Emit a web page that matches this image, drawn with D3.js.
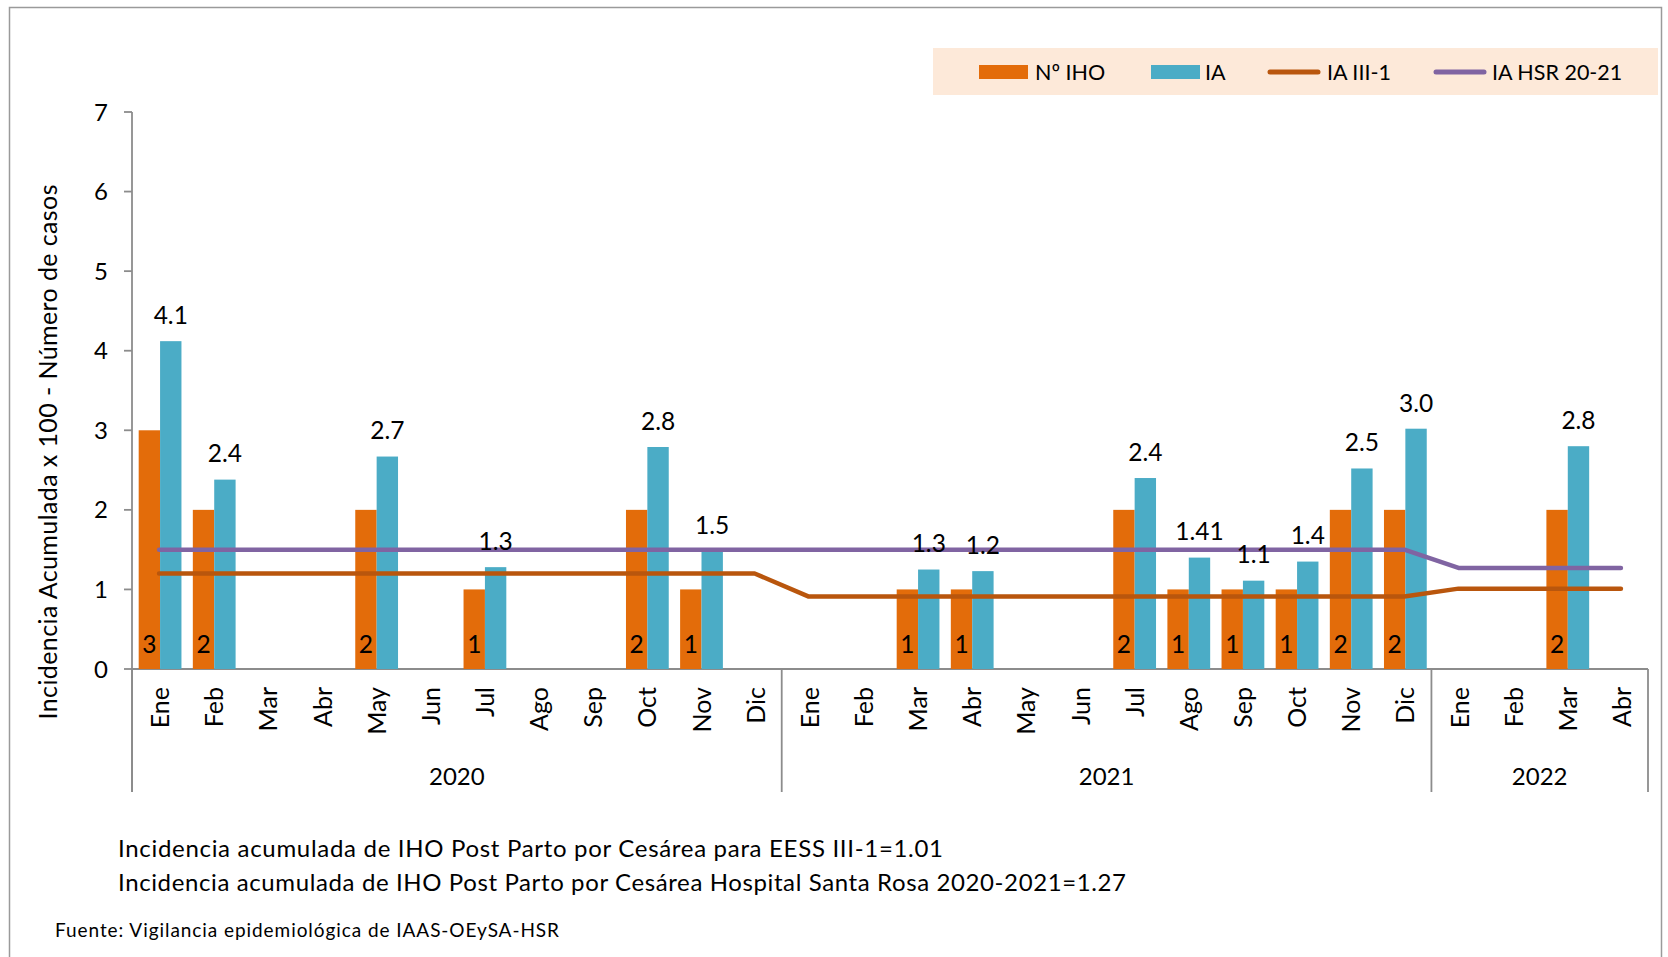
<!DOCTYPE html>
<html>
<head>
<meta charset="utf-8">
<script src="https://cdn.jsdelivr.net/npm/d3@7"></script>
<style>
  html, body { margin: 0; padding: 0; background: #fff; }
  svg { display: block; font-family: Lato, "Open Sans", sans-serif; }
</style>
</head>
<body>
<svg id="chart" width="1668" height="957"></svg>
<script>
// ---- Data ----
const years = ["2020", "2021", "2022"];
const monthsPerYear = [12, 12, 4];
const months = ["Ene","Feb","Mar","Abr","May","Jun","Jul","Ago","Sep","Oct","Nov","Dic",
                "Ene","Feb","Mar","Abr","May","Jun","Jul","Ago","Sep","Oct","Nov","Dic",
                "Ene","Feb","Mar","Abr"];
const ihoCount = [3, 2, null, null, 2, null, 1, null, null, 2, 1, null,
                  null, null, 1, 1, null, null, 2, 1, 1, 1, 2, 2,
                  null, null, 2, null];
const iaValues = [4.12, 2.38, null, null, 2.67, null, 1.28, null, null, 2.79, 1.48, null,
                  null, null, 1.25, 1.23, null, null, 2.40, 1.40, 1.11, 1.35, 2.52, 3.02,
                  null, null, 2.80, null];
const iaLabels = ["4.1", "2.4", "", "", "2.7", "", "1.3", "", "", "2.8", "1.5", "",
                  "", "", "1.3", "1.2", "", "", "2.4", "1.41", "1.1", "1.4", "2.5", "3.0",
                  "", "", "2.8", ""];
const iaIII1 = [1.2, 1.2, 1.2, 1.2, 1.2, 1.2, 1.2, 1.2, 1.2, 1.2, 1.2, 1.2,
                0.91, 0.91, 0.91, 0.91, 0.91, 0.91, 0.91, 0.91, 0.91, 0.91, 0.91, 0.91,
                1.01, 1.01, 1.01, 1.01];
const iaHSR = [1.5, 1.5, 1.5, 1.5, 1.5, 1.5, 1.5, 1.5, 1.5, 1.5, 1.5, 1.5,
               1.5, 1.5, 1.5, 1.5, 1.5, 1.5, 1.5, 1.5, 1.5, 1.5, 1.5, 1.5,
               1.27, 1.27, 1.27, 1.27];
const yTicks = [0, 1, 2, 3, 4, 5, 6, 7];
const legendLabels = ["Nº IHO", "IA", "IA III-1", "IA HSR 20-21"];
const yAxisTitle = "Incidencia Acumulada x 100 - Número de casos";
const footnotes = ["Incidencia acumulada de IHO Post Parto por Cesárea para EESS III-1=1.01",
                   "Incidencia acumulada de IHO Post Parto por Cesárea Hospital Santa Rosa 2020-2021=1.27"];
const sourceNote = "Fuente: Vigilancia epidemiológica de IAAS-OEySA-HSR";

(function draw() {
// ---- Styles ----
const C_ORANGE = "#E36C0A", C_CYAN = "#4BACC6", C_III1 = "#B9560D", C_HSR = "#8064A2";
const AXIS = "#8C8C8C";

const svg = d3.select("#chart");

// outer border
svg.append("rect").attr("x", 9.5).attr("y", 7.5).attr("width", 1652).attr("height", 980)
  .attr("fill", "none").attr("stroke", "#9a9a9a").attr("stroke-width", 1.5);

const pLeft = 132, pRight = 1648, pTop = 112, pBottom = 669, axisBottom = 792;
const idx = d3.range(months.length);
const x = d3.scaleBand().domain(idx).range([pLeft, pRight]).padding(0);
const y = d3.scaleLinear().domain([0, 7]).range([pBottom, pTop]);
const bw = x.bandwidth() * 0.395;
const cx = i => x(i) + x.bandwidth() / 2;

// y axis
const yAxis = svg.append("g");
yAxis.append("line").attr("x1", pLeft).attr("x2", pLeft).attr("y1", pTop).attr("y2", axisBottom)
  .attr("stroke", AXIS).attr("stroke-width", 1.8);
yAxis.selectAll(".tk").data(yTicks).join("line")
  .attr("x1", pLeft - 8).attr("x2", pLeft).attr("y1", d => y(d)).attr("y2", d => y(d))
  .attr("stroke", AXIS).attr("stroke-width", 1.8);
yAxis.selectAll(".tl").data(yTicks).join("text")
  .attr("x", 108).attr("y", d => y(d)).attr("dy", "0.36em")
  .attr("text-anchor", "end").attr("font-size", 24).attr("fill", "#000")
  .text(d => d);

// y title
svg.append("text").attr("transform", `translate(57,452) rotate(-90)`)
  .attr("text-anchor", "middle").attr("font-size", 25).attr("fill", "#000")
  .attr("textLength", 535).attr("lengthAdjust", "spacing")
  .text(yAxisTitle);

// x axis
svg.append("line").attr("x1", pLeft).attr("x2", pRight).attr("y1", pBottom).attr("y2", pBottom)
  .attr("stroke", AXIS).attr("stroke-width", 1.8);
// group separators
let acc = 0;
const sepIdx = [0];
monthsPerYear.forEach(n => { acc += n; sepIdx.push(acc); });
const sepX = k => (k < months.length ? x(k) : pRight);
svg.selectAll(".sep").data(sepIdx).join("line")
  .attr("x1", d => sepX(d)).attr("x2", d => sepX(d)).attr("y1", pBottom).attr("y2", axisBottom)
  .attr("stroke", AXIS).attr("stroke-width", 1.8);
// month labels
svg.selectAll(".ml").data(idx).join("text")
  .attr("transform", i => `translate(${cx(i) + 10},687) rotate(-90)`)
  .attr("text-anchor", "end").attr("font-size", 25).attr("fill", "#000")
  .text(i => months[i]);
// year labels
years.forEach((yr, k) => {
  const a = sepX(sepIdx[k]), b = sepX(sepIdx[k + 1]);
  svg.append("text").attr("x", (a + b) / 2).attr("y", 785)
    .attr("text-anchor", "middle").attr("font-size", 24).attr("fill", "#000").text(yr);
});

// bars
const bars = svg.append("g");
bars.selectAll(".ob").data(idx.filter(i => ihoCount[i] != null)).join("rect")
  .attr("x", i => cx(i) - bw + 1).attr("width", bw)
  .attr("y", i => y(ihoCount[i])).attr("height", i => pBottom - y(ihoCount[i]))
  .attr("fill", C_ORANGE);
bars.selectAll(".cb").data(idx.filter(i => iaValues[i] != null)).join("rect")
  .attr("x", i => cx(i) + 1).attr("width", bw)
  .attr("y", i => y(iaValues[i])).attr("height", i => pBottom - y(iaValues[i]))
  .attr("fill", C_CYAN);

// lines
const line = arr => d3.line().x(i => cx(i)).y(i => y(arr[i]))(idx);
svg.append("path").attr("d", line(iaIII1)).attr("fill", "none")
  .attr("stroke", C_III1).attr("stroke-width", 4.5).attr("stroke-linecap", "round").attr("stroke-linejoin", "round");
svg.append("path").attr("d", line(iaHSR)).attr("fill", "none")
  .attr("stroke", C_HSR).attr("stroke-width", 4.5).attr("stroke-linecap", "round").attr("stroke-linejoin", "round");

// labels
svg.selectAll(".il").data(idx.filter(i => iaValues[i] != null)).join("text")
  .attr("x", i => cx(i) + 1 + bw / 2).attr("y", i => y(iaValues[i]) - 26)
  .attr("dy", "0.36em").attr("text-anchor", "middle").attr("font-size", 24.5).attr("fill", "#000")
  .text(i => iaLabels[i]);
svg.selectAll(".cl").data(idx.filter(i => ihoCount[i] != null)).join("text")
  .attr("x", i => cx(i) + 1 - bw / 2).attr("y", pBottom - 25)
  .attr("dy", "0.36em").attr("text-anchor", "middle").attr("font-size", 24.5).attr("fill", "#000")
  .text(i => ihoCount[i]);

// legend
const lg = svg.append("g");
lg.append("rect").attr("x", 933).attr("y", 48).attr("width", 725).attr("height", 47).attr("fill", "#FDE9D9");
const lgItems = [
  {type: "rect", color: C_ORANGE, sx: 979, tx: 1035},
  {type: "rect", color: C_CYAN, sx: 1151, tx: 1205},
  {type: "line", color: C_III1, sx: 1270, tx: 1327},
  {type: "line", color: C_HSR, sx: 1436, tx: 1492}
];
lgItems.forEach((it, k) => {
  if (it.type === "rect") {
    lg.append("rect").attr("x", it.sx).attr("y", 65).attr("width", 49).attr("height", 14).attr("fill", it.color);
  } else {
    lg.append("line").attr("x1", it.sx).attr("x2", it.sx + 48).attr("y1", 72).attr("y2", 72)
      .attr("stroke", it.color).attr("stroke-width", 5).attr("stroke-linecap", "round");
  }
  lg.append("text").attr("x", it.tx).attr("y", 72).attr("dy", "0.36em")
    .attr("font-size", 21.5).attr("fill", "#000").text(legendLabels[k]);
});

// footnotes
const fnWidths = [825, 1008];
footnotes.forEach((t, k) => {
  svg.append("text").attr("x", 118).attr("y", 848 + k * 34).attr("dy", "0.36em")
    .attr("font-size", 24).attr("fill", "#000")
    .attr("textLength", fnWidths[k]).attr("lengthAdjust", "spacing").text(t);
});
svg.append("text").attr("x", 55).attr("y", 930).attr("dy", "0.36em")
  .attr("font-size", 19).attr("fill", "#000")
  .attr("textLength", 504).attr("lengthAdjust", "spacing").text(sourceNote);
})();
</script>
</body>
</html>
